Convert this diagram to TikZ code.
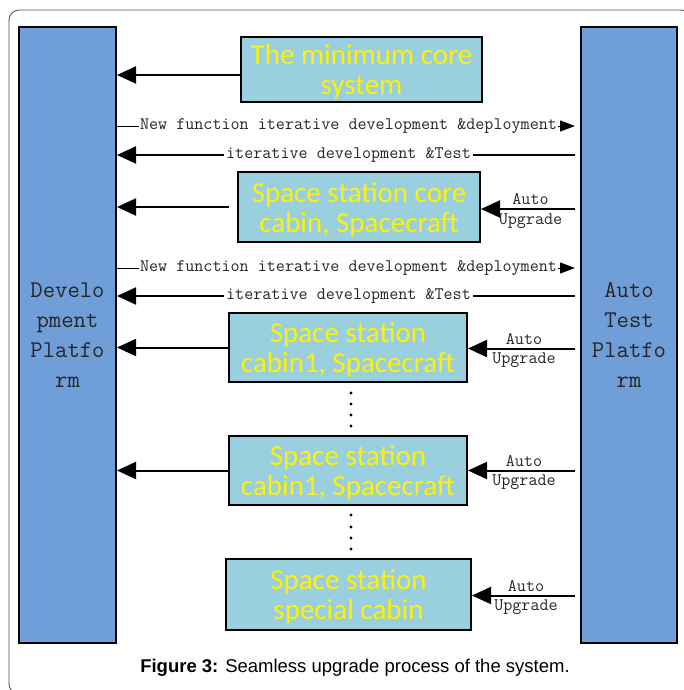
\documentclass[tikz,border=0pt]{standalone}
\usepackage{fontspec}
\usepackage{tikz}
\usetikzlibrary{arrows.meta, positioning, calc}
\newfontfamily\boxfont{Carlito}
\newfontfamily\capfont{Liberation Sans}
\definecolor{platblue}{RGB}{112,158,216}
\definecolor{cabinblue}{RGB}{153,207,222}

\tikzset{
  platform/.style={draw=black, line width=2pt, fill=platblue, minimum width=97pt, minimum height=616pt, inner sep=0pt, align=center, font=\ttfamily\fontsize{24}{30}\selectfont, text=black!85},
  cabin/.style={draw=black, line width=2pt, fill=cabinblue, inner sep=0pt, align=center, text=yellow, text depth=0pt, font=\boxfont\fontsize{29}{30}\selectfont},
  bigarrow/.style={line width=2pt, -{Triangle[length=19pt,width=17pt]}},
  smallarrow/.style={line width=1pt, -{Triangle[length=15pt,width=11pt]}},
  lbl/.style={font=\ttfamily\fontsize{17.6}{20}\selectfont, text=black!85},
}

\begin{document}
\begin{tikzpicture}[x=1pt, y=-1pt]
			\useasboundingbox (0,0) rectangle (684,690);
			\draw[black!70, line width=0.8pt, rounded corners=10pt] (9,10) rectangle (691,694);
			
			\node[platform] (dev) at (67.5,335) {Develo\\pment\\Platfo\\rm};
			\node[platform, minimum width=96pt] (test) at (629,335) {Auto\\Test\\Platfo\\rm};
			
			\node[cabin, minimum width=241pt, minimum height=65pt] (minbox) at (361.5,69.5) {The minimum core\\system};
			\node[cabin, minimum width=242pt, minimum height=70pt] (corebox) at (359,207) {Space station core\\cabin, Spacecraft};
			\node[cabin, minimum width=238pt, minimum height=69pt] (cabinA) at (348,347.5) {Space station\\cabin1, Spacecraft};
			\node[cabin, minimum width=238pt, minimum height=69pt] (cabinB) at (348,470.5) {Space station\\cabin1, Spacecraft};
			\node[cabin, minimum width=245pt, minimum height=71pt] (specialbox) at (348.5,594.5) {Space station\\special cabin};
			
			%% arrows into the development platform
			\coordinate (mc) at (0,75);
			\draw[bigarrow] (minbox.west |- mc) -- (dev.east |- mc);
			\draw[bigarrow] ([xshift=-8pt]corebox.west) -- (dev.east |- corebox.west);
			\draw[bigarrow] (cabinA.west) -- (dev.east |- cabinA.west);
			\draw[bigarrow] (cabinB.west) -- (dev.east |- cabinB.west);
			
			%% iterations between the two platforms
			\foreach \ya/\yb in {126/155, 268/296}{
				\coordinate (nf) at (0,\ya);
				\coordinate (it) at (0,\yb);
				\draw[smallarrow, shorten >=5pt] (dev.east |- nf) -- node[lbl, fill=white, inner sep=1pt] {New function iterative development \&deployment} (test.west |- nf);
				\draw[bigarrow, shorten <=5pt] (test.west |- it) -- node[lbl, fill=white, inner sep=2pt] {iterative development \&Test} (dev.east |- it);
			}
			
			%% auto upgrade from the test platform
			\foreach \b/\dy in {corebox/-2, cabinA/-1, cabinB/0, specialbox/-1}{
				\coordinate (au) at ([yshift=\dy pt]\b.east);
				\draw[bigarrow, shorten <=5pt] (test.west |- au) -- node[lbl, above=0pt] {Auto} node[lbl, below=0pt] {Upgrade} (au);
			}
			
			%% dots between the cabins
			\foreach \y in {393,404,415,426,515,527,538,549}
				\fill (351,\y) circle (1.6pt);
			
			\node[font=\capfont\fontsize{18.5}{22}\selectfont] (caption) at (355,668) {\textbf{Figure 3:} Seamless upgrade process of the system.};
\end{tikzpicture}
\end{document}
